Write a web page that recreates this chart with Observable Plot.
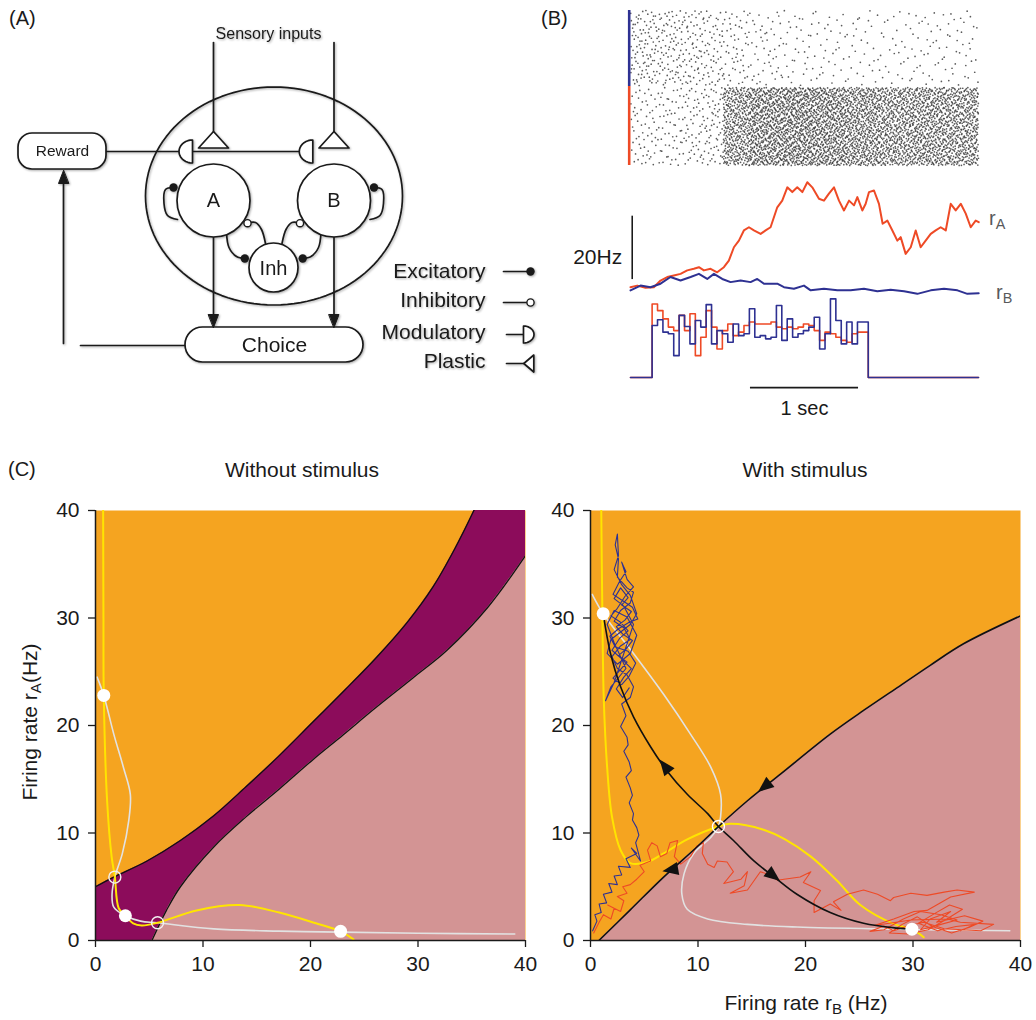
<!DOCTYPE html>
<html><head><meta charset="utf-8">
<script src="https://cdn.jsdelivr.net/npm/d3@7"></script>
<script src="https://cdn.jsdelivr.net/npm/@observablehq/plot@0.6"></script>
<style>
body{margin:0;background:#fff;}
#fig{position:relative;width:1036px;height:1020px;font-family:"Liberation Sans",Arial,Helvetica,sans-serif;color:#1a1a1a;overflow:hidden;background:#fff;}
.layer{position:absolute;}
.layer svg{display:block;overflow:visible;}
#panelA svg{filter:drop-shadow(1.5px 1.8px 1.3px rgba(0,0,0,0.33));}
.lbl{position:absolute;white-space:nowrap;line-height:1;}
.lbl sub{font-size:0.72em;vertical-align:-0.28em;line-height:0;}
</style></head><body><div id="fig"></div>
<script>
// ================= DATA =================
// ---- Panel A: network diagram (pixel layout of the schematic) ----
const diagramCircles = [
  {label: "A", x: 213, y: 200, r: 36.5},
  {label: "B", x: 333.5, y: 200, r: 36.5}
];
const inhCircle = [{label: "Inh", x: 273, y: 267, r: 24.5}];
const rewardBox = [{label: "Reward", x1: 18, x2: 106, y1: 133, y2: 169}];
const choiceBox = [{label: "Choice", x1: 185, x2: 363, y1: 327, y2: 362}];
const networkEllipse = {cx: 273.5, cy: 195.5, rx: 128.5, ry: 109};
const sensoryLabel = [{text: "Sensory inputs", x: 268, y: 33}];
const straightWires = [
  {id: "inA", pts: [[213, 42], [213, 131]]},
  {id: "inB", pts: [[333.5, 42], [333.5, 131]]},
  {id: "reward", pts: [[106, 151], [300, 151]]},
  {id: "choiceOut", pts: [[185, 345], [80, 345]]},
  {id: "feedback", pts: [[63, 343], [63, 182]]},
  {id: "AtoChoice", pts: [[213, 236], [213, 316]]},
  {id: "BtoChoice", pts: [[333.5, 236], [333.5, 316]]},
  {id: "legExc", pts: [[503, 271], [527, 271]]},
  {id: "legInh", pts: [[503, 302], [526.5, 302]]},
  {id: "legMod", pts: [[506, 334], [523, 334]]},
  {id: "legPla", pts: [[506, 363], [523.3, 363]]}
];
const curvedWires = [
  {id: "loopA", pts: [[177, 219], [167, 215], [163.5, 203], [165, 189], [173, 187]]},
  {id: "loopB", pts: [[369.5, 219], [379.5, 215], [383, 203], [381.5, 189], [373.5, 187]]},
  {id: "AtoInh", pts: [[226, 232], [228.5, 247], [236, 256], [244.3, 258]]},
  {id: "InhToA", pts: [[265, 243], [261, 229], [255, 222], [247, 222.7]]},
  {id: "BtoInh", pts: [[320.5, 232], [318, 247], [310.5, 256], [302.2, 258]]},
  {id: "InhToB", pts: [[281.5, 243], [285.5, 229], [291.5, 222], [299.5, 222.7]]}
];
// synapse glyphs: tip/anchor point, direction from tip toward base, length h, half-width w
const arrowHeads = [
  {x: 213, y: 327, dir: [0, -1], h: 13, w: 5},
  {x: 333.5, y: 327, dir: [0, -1], h: 13, w: 5},
  {x: 63, y: 170, dir: [0, 1], h: 13, w: 5}
];
const plasticSynapses = [
  {x: 213, y: 131, dir: [0, 1], h: 16.5, w: 15},
  {x: 333.5, y: 131, dir: [0, 1], h: 16.5, w: 15},
  {x: 523.3, y: 363, dir: [1, 0], h: 10, w: 8.5}
];
const modulatorySynapses = [
  {x: 192, y: 151, dir: [-1, 0], h: 13.5, w: 11.5},
  {x: 312.3, y: 151, dir: [-1, 0], h: 13.5, w: 11.5},
  {x: 523, y: 334, dir: [1, 0], h: 10.5, w: 8.5}
];
const excitatoryDots = [[173, 187], [373.5, 187], [244.3, 258], [302.2, 258], [530, 271]];
const inhibitoryDots = [[247, 222.7], [299.5, 222.7], [530, 302]];
const legendLabels = [
  {text: "Excitatory", y: 271}, {text: "Inhibitory", y: 300},
  {text: "Modulatory", y: 331.5}, {text: "Plastic", y: 361}
];

// ---- Panel B ----
const T_END = 3.22;                       // seconds shown
const rasterBinEdges = [0, 0.25, 0.5, 0.7, 0.86, 1.1, 1.4, 1.7, 2.0, 2.3, 2.6, 2.9, 3.22];
const rasterRateB = [5.2, 4.8, 4.4, 3.8, 3.0, 2.1, 1.6, 1.4, 1.3, 1.3, 1.5, 1.5];   // Hz per neuron (pop. B, top)
const rasterRateA = [2.9, 3.1, 3.5, 4.4, 21, 25, 26, 25, 23, 21, 22, 21];           // Hz per neuron (pop. A, bottom)
const rasterRowsA = [0, 78];
const rasterRowsB = [80, 155];
const rA_time = [0,.062,.139,.216,.278,.340,.401,.463,.525,.586,.633,.679,.741,.802,.864,.910,.957,1.003,1.049,1.096,1.142,1.204,1.250,1.296,1.358,1.404,1.451,1.497,1.543,1.590,1.636,1.682,1.744,1.790,1.836,1.883,1.929,1.975,2.022,2.068,2.099,2.145,2.176,2.207,2.253,2.299,2.333,2.377,2.423,2.469,2.500,2.546,2.593,2.639,2.685,2.731,2.778,2.824,2.870,2.917,2.963,3.009,3.056,3.102,3.148,3.194,3.222];
const rA_rate = [4.2,4.7,4.0,4.2,6.3,7.4,7.9,8.4,9.5,10.0,10.5,9.5,10.0,8.9,10.5,12.6,16.8,18.9,22.1,23.1,22.1,21.0,22.1,23.1,29.4,31.5,35.7,34.2,35.7,34.2,37.3,35.7,32.1,31.5,33.7,35.7,31.5,28.4,31.5,30.0,32.6,28.4,30.5,34.2,34.7,30.5,24.2,25.2,22.1,18.9,20.0,14.7,16.8,22.1,16.8,18.9,21.0,22.1,23.1,22.1,30.5,28.4,30.5,27.4,23.1,25.2,24.7];
const rB_time = [0,.093,.185,.278,.370,.463,.556,.633,.710,.772,.849,.926,1.019,1.111,1.173,1.235,1.358,1.420,1.512,1.605,1.667,1.790,1.914,2.037,2.160,2.284,2.407,2.531,2.654,2.778,2.901,3.025,3.117,3.222];
const rB_rate = [3.2,4.7,4.2,5.3,7.4,6.3,7.4,8.4,6.8,8.4,6.8,5.8,6.3,5.8,6.8,5.3,5.3,4.2,3.7,4.7,3.2,3.7,3.2,3.2,3.7,2.9,3.4,2.9,2.1,3.2,3.7,3.2,2.1,2.3];
const stimOnset = 0.2, stimBin = 0.05;
const stimA = [23.2,21.1,18.5,15.9,14.8,19.6,14.8,20.1,6.9,12.7,21.1,15.9,9.0,14.8,16.9,13.2,14.3,16.4,17.5,16.9,16.9,16.9,17.5,15.9,15.4,15.9,15.4,15.9,16.9,16.4,14.8,11.7,14.3,13.8,12.7,11.7,11.1,13.8,14.3,14.3];
const stimB = [16.4,18.2,14.3,13.8,6.9,19.6,16.1,10.6,18.0,15.9,23.0,10.6,14.8,13.8,11.1,16.9,13.2,13.8,21.7,12.7,13.2,12.2,12.7,22.7,11.7,18.5,12.7,13.8,14.8,15.9,19.0,9.0,13.8,24.8,18.0,10.6,17.5,10.6,17.5,17.5];
const rateScaleBar = {t: 0.016, from: 6.6, to: 26.6, label: "20Hz"};
const timeScaleBar = {from: 1.11, to: 2.11, label: "1 sec"};

// ---- Panel C (left: without stimulus) ----
const upperBoundaryLeft = [[0,5.0],[1.7,5.9],[4.8,7.4],[7.9,9.3],[11,11.6],[14,14.3],[17.1,17.2],[20.2,20.3],[23.2,23.3],[26.2,26.4],[29,29.6],[31.4,32.9],[33.4,36.4],[35.2,40],[36.8,43.5]];
const lowerBoundaryLeft = [[5.25,0],[6.6,2.8],[7.9,5.0],[11,8.7],[14,11.5],[17.1,14.1],[20.2,16.8],[23,19.1],[26,21.6],[29.5,24.4],[32.7,27.0],[36.5,31.0],[40,35.8]];
const grayNullLeft = [[0.15,24.5],[0.77,22.8],[1.7,19.2],[2.6,16.1],[3.24,13.6],[3.1,11.2],[2.5,8.1],[1.8,5.9],[1.54,4.3],[1.7,3.1],[2.78,2.3],[4.2,1.8],[5.77,1.65],[11,1.08],[17.1,0.87],[22.8,0.78],[30,0.68],[39,0.6]];
const yellowNullLeft = [[0.71,40],[0.74,30],[0.77,22.8],[1.08,13],[1.5,7.8],[1.8,5.9],[2.16,3.0],[2.78,2.3],[3.5,1.6],[4.3,1.4],[5.77,1.65],[9.4,2.8],[13.4,3.3],[17.1,2.6],[20.5,1.6],[22.8,0.85],[24,0.1]];
const stableLeft = [[0.77,22.8],[2.78,2.3],[22.8,0.85]];
const unstableLeft = [[1.8,5.9],[5.77,1.65]];

// ---- Panel C (right: with stimulus) ----
const stableManifold = [[0.78,0],[3.7,2.85],[6.8,5.9],[9.9,8.7],[11.9,10.6],[14.6,13],[17.7,15.5],[22.3,19.2],[25.4,21.4],[28.5,23.5],[31.6,25.6],[34.7,27.6],[40,30.2]];
const unstableManifold = [[1.18,30.4],[1.86,26.7],[2.8,23.6],[4.0,20.8],[5.6,18.0],[7.1,15.8],[9.0,13.6],[10.9,11.8],[11.9,10.6],[13.3,9.3],[15.2,7.4],[17.1,5.9],[19.2,4.3],[22.3,2.6],[25.4,1.6],[28.5,1.15],[29.9,1.05]];
const grayNullRight = [[0.16,32.2],[1.18,30.4],[4.0,26.7],[6.8,22.9],[9.3,19.2],[11.2,16.1],[12.1,13.6],[12.1,11.5],[11.9,10.6],[11.2,9.6],[9.6,8.1],[8.7,6.2],[8.5,4.3],[9.0,2.9],[10.9,2.0],[14.6,1.5],[19.2,1.25],[28.2,1.05],[39,0.9]];
const yellowNullRight = [[1.0,40],[1.09,31.6],[1.24,22.3],[1.55,16.1],[2.0,11.5],[2.8,8.4],[3.7,7.2],[5.3,7.3],[6.8,8.1],[9.0,9.4],[11.9,10.6],[13.0,10.85],[16.1,10.3],[18.1,9.4],[20.5,7.8],[22.9,5.6],[25.1,3.3],[28.2,1.55],[29.9,1.05],[31.0,0.3]];
const stableRight = [[1.18,30.4],[29.9,1.05]];
const unstableRight = [[11.9,10.6]];
const manifoldArrows = [
  {x: 7.0, y: 16.1, angle: -38},
  {x: 16.9, y: 6.1, angle: 128},
  {x: 16.3, y: 14.4, angle: -129},
  {x: 7.6, y: 6.6, angle: -100}
];
const trajectoryB = [[0.2,0.9],[0.6,1.8],[0.4,2.4],[1.0,2.6],[0.8,3.4],[1.5,3.5],[1.2,4.3],[2.0,4.5],[1.7,5.3],[2.5,5.2],[2.2,6.0],[2.9,6.1],[2.6,6.9],[3.7,6.8],[3.3,7.6],[4.3,8.1],[3.8,8.6],[4.65,7.4],[4.2,9.1],[4.5,9.8],[4.3,10.5],[3.9,11.2],[4.0,11.8],[3.6,12.8],[3.9,13.5],[3.7,14.2],[3.3,15.2],[3.8,15.8],[3.6,16.6],[3.1,17.6],[3.5,18.2],[3.4,18.9],[2.8,19.9],[3.3,20.9],[2.9,22.0],[3.7,22.6],[4.0,23.6],[3.4,24.7],[2.5,25.3],[2.0,26.4],[2.8,27.4],[3.7,28.0],[3.1,29.1],[2.2,29.7],[2.8,30.7],[3.7,31.4],[4.0,32.4],[3.4,32.8],[2.5,33.8],[2.6,35.5],[2.3,36.8],[2.5,37.8],[2.6,35.8],[2.2,34.5],[2.9,33.1],[3.7,32.1],[4.3,30.4],[3.7,29.4],[2.8,28.7],[1.9,28.0],[1.55,26.7],[2.5,25.7],[3.7,26.7],[4.3,28.4],[3.4,30.1],[2.2,30.7],[1.55,29.4],[2.2,27.7],[3.3,25.3],[1.9,23.6],[1.4,22.3],[2.2,24.0],[3.1,26.7],[4.0,29.4],[3.1,31.1],[2.2,31.8],[2.8,32.8],[3.5,31.9],[2.9,31.2],[3.8,30.6],[3.2,29.8],[2.4,29.2],[3.0,28.5],[3.9,27.9],[3.3,27.1],[2.6,26.5],[3.4,25.9],[2.7,25.1],[2.1,24.4],[2.9,23.8],[3.6,24.6],[4.2,25.8],[3.5,26.9],[2.3,27.3],[1.8,28.3],[2.6,29.0],[3.6,29.6],[4.4,29.9],[3.9,31.0],[3.0,31.6],[2.1,32.2],[2.7,33.4],[3.3,34.3],[2.9,35.2],[3.4,33.6],[4.0,32.9],[3.2,32.0],[2.5,30.9],[1.9,30.2],[2.8,29.6],[3.5,28.8],[2.7,28.1],[2.0,27.0],[2.9,26.2],[3.8,25.3],[3.1,24.5],[2.4,23.4],[3.0,22.6],[3.6,23.5]];
const trajectoryA = [[0.3,0.7],[0.8,1.7],[1.2,2.4],[1.9,2.0],[2.2,3.0],[1.6,3.3],[2.8,2.7],[3.1,3.7],[2.5,4.1],[3.4,4.4],[3.0,5.0],[3.7,5.2],[4.3,5.7],[5.0,6.4],[4.6,7.0],[5.6,7.4],[5.3,8.4],[5.7,9.1],[6.2,8.8],[6.5,7.8],[7.1,8.1],[7.4,9.1],[8.1,9.3],[7.8,7.8],[8.4,7.1],[9.3,7.8],[9.9,8.8],[10.5,9.1],[10.4,8.1],[10.9,7.1],[11.5,6.8],[11.8,7.4],[12.7,7.3],[13.3,6.4],[12.4,5.3],[14.0,5.7],[14.6,6.4],[14.3,5.1],[13.0,4.4],[14.6,4.7],[15.8,6.4],[16.7,6.1],[17.4,5.6],[18.0,5.7],[19.5,5.9],[20.5,6.4],[19.8,5.4],[21.4,4.65],[20.8,3.7],[20.8,2.6],[22.3,3.4],[23.3,2.8],[22.6,3.6],[23.9,4.3],[25.4,4.7],[26.7,4.3],[27.9,3.7],[28.2,4.0],[29.8,4.4],[31.3,4.2],[32.9,4.5],[34.1,4.7],[35.7,4.5],[33.5,4.05],[31.3,2.8],[30.1,2.7],[28.2,2.0],[26.4,1.4],[29.8,1.9],[33.2,2.0],[34.4,1.7],[37.5,1.5],[36.3,0.9],[32.9,1.1],[31.0,1.7],[29.5,1.35],[28.2,0.9],[27.3,1.35],[26.0,0.85],[27.3,1.0],[29.1,2.0],[30.7,2.7],[32.6,2.4],[34.1,1.9],[32.6,1.5],[30.7,1.0],[31.6,2.0],[33.5,2.7],[32.2,1.7],[34.8,2.3],[36.5,1.8],[35.2,1.2],[33.6,0.7],[31.8,1.3],[30.4,2.2],[29.0,1.5],[27.8,0.7],[29.6,0.6],[31.4,1.0],[33.0,1.9],[34.6,2.9],[33.4,3.3],[32.0,2.5],[30.5,1.6],[32.3,0.9],[34.0,1.3],[35.8,1.5],[34.4,0.9]];

// ================= RENDER =================
const FONT = '"Liberation Sans", Arial, Helvetica, sans-serif';
const INK = "#1a1a1a";
const ORANGE = "#F5A420", PURPLE = "#8C0C5B", PINK = "#D39494";
const YELLOW = "#FFE400", LIGHTGRAY = "#E2E2E2";
const RED = "#EE4A26", BLUE = "#2E3192";
const fig = document.getElementById("fig");

function place(node, left, top, id) {
  const d = document.createElement("div");
  d.className = "layer"; d.style.left = left + "px"; d.style.top = top + "px";
  if (id) d.id = id;
  d.appendChild(node); fig.appendChild(d); return d;
}
function label(html, x, y, {size = 21, anchor = "middle", rotate = 0, color = INK} = {}) {
  const d = document.createElement("div");
  d.className = "lbl"; d.innerHTML = html;
  d.style.left = x + "px"; d.style.top = y + "px";
  d.style.fontSize = size + "px"; d.style.color = color;
  const tx = anchor === "middle" ? "-50%" : anchor === "end" ? "-100%" : "0";
  d.style.transform = `translate(${tx},-50%)` + (rotate ? ` rotate(${rotate}deg)` : "");
  fig.appendChild(d);
}
const flat = (wires) => wires.flatMap(w => w.pts.map(([x, y]) => ({id: w.id, x, y})));
function trianglePoly(g, i, tag) {
  const [ux, uy] = g.dir, px = -uy, py = ux;
  return [[g.x, g.y],
          [g.x + ux * g.h + px * g.w, g.y + uy * g.h + py * g.w],
          [g.x + ux * g.h - px * g.w, g.y + uy * g.h - py * g.w]].map(([x, y]) => ({id: tag + i, x, y}));
}
function halfDiscPoly(g, i, tag) {
  const [ux, uy] = g.dir, px = -uy, py = ux;
  return d3.range(0, 181, 10).map(a => {
    const th = a * Math.PI / 180;
    return {id: tag + i, x: g.x + px * g.w * Math.cos(th) + ux * g.h * Math.sin(th),
                         y: g.y + py * g.w * Math.cos(th) + uy * g.h * Math.sin(th)};
  });
}
const baseStyle = {fontFamily: FONT, color: INK, background: "transparent", overflow: "visible"};

// ---------- Panel A ----------
{
  const E = networkEllipse;
  const ellipsePts = d3.range(0, 360, 3).map(a => ({x: E.cx + E.rx * Math.cos(a * Math.PI / 180), y: E.cy + E.ry * Math.sin(a * Math.PI / 180)}));
  const whiteGlyphs = [...plasticSynapses.flatMap((g, i) => trianglePoly(g, i, "p")),
                       ...modulatorySynapses.flatMap((g, i) => halfDiscPoly(g, i, "m"))];
  const blackGlyphs = arrowHeads.flatMap((g, i) => trianglePoly(g, i, "a"));
  const lw = 1.7;
  const pA = Plot.plot({
    width: 540, height: 420, margin: 0,
    x: {domain: [0, 540], range: [0, 540], axis: null},
    y: {domain: [0, 420], range: [0, 420], axis: null},
    style: baseStyle,
    marks: [
      Plot.line(ellipsePts, {x: "x", y: "y", stroke: INK, strokeWidth: lw, curve: "linear-closed"}),
      Plot.line(flat(straightWires), {x: "x", y: "y", z: "id", stroke: INK, strokeWidth: lw}),
      Plot.line(flat(curvedWires), {x: "x", y: "y", z: "id", stroke: INK, strokeWidth: lw, curve: "catmull-rom"}),
      Plot.dot(diagramCircles, {x: "x", y: "y", r: 36.5, fill: "white", stroke: INK, strokeWidth: lw}),
      Plot.dot(inhCircle, {x: "x", y: "y", r: 24.5, fill: "white", stroke: INK, strokeWidth: lw}),
      Plot.rect(rewardBox, {x1: "x1", x2: "x2", y1: "y1", y2: "y2", rx: 14, fill: "white", stroke: INK, strokeWidth: lw}),
      Plot.rect(choiceBox, {x1: "x1", x2: "x2", y1: "y1", y2: "y2", rx: 17.5, fill: "white", stroke: INK, strokeWidth: lw}),
      Plot.line(whiteGlyphs, {x: "x", y: "y", z: "id", fill: "white", stroke: INK, strokeWidth: lw, curve: "linear-closed"}),
      Plot.line(blackGlyphs, {x: "x", y: "y", z: "id", fill: INK, stroke: INK, strokeWidth: 1, curve: "linear-closed"}),
      Plot.dot(excitatoryDots, {x: d => d[0], y: d => d[1], r: 4.2, fill: INK}),
      Plot.dot(inhibitoryDots, {x: d => d[0], y: d => d[1], r: 3.6, fill: "white", stroke: INK, strokeWidth: 1.4}),
      Plot.text(diagramCircles, {x: "x", y: "y", text: "label", fontSize: 20, fill: INK}),
      Plot.text(inhCircle, {x: "x", y: d => d.y + 1, text: "label", fontSize: 20, fill: INK}),
      Plot.text(rewardBox, {x: d => (d.x1 + d.x2) / 2, y: d => (d.y1 + d.y2) / 2, text: "label", fontSize: 15.5, fill: INK}),
      Plot.text(choiceBox, {x: d => (d.x1 + d.x2) / 2, y: d => (d.y1 + d.y2) / 2, text: "label", fontSize: 21, fill: INK}),
      Plot.text(sensoryLabel, {x: "x", y: "y", text: "text", fontSize: 16, fill: INK}),
      Plot.text(legendLabels, {x: 485, y: "y", text: "text", fontSize: 21, textAnchor: "end", fill: INK})
    ]
  });
  place(pA, 0, 0, "panelA");
}

// ---------- Panel B ----------
{
  const xB = {domain: [0, T_END], range: [100, 448], axis: null};
  // raster: dots laid out evenly (Halton sequence) at the density read for each time bin
  const halton = (i, b) => { let f = 1, r = 0; while (i > 0) { f /= b; r += f * (i % b); i = Math.floor(i / b); } return r; };
  const spikes = [];
  [[rasterRateA, rasterRowsA, 0], [rasterRateB, rasterRowsB, 1]].forEach(([rates, [r0, r1], p]) => {
    rates.forEach((rate, k) => {
      const t0 = rasterBinEdges[k], dt = rasterBinEdges[k + 1] - t0;
      const n = Math.round(rate * dt * (r1 - r0));
      const seed = 1 + k * 4099 + p * 65537;
      for (let j = 0; j < n; j++) spikes.push({t: t0 + halton(seed + j, 2) * dt, n: r0 + halton(seed + j, 3) * (r1 - r0)});
    });
  });
  const raster = Plot.plot({
    width: 506, height: 180, margin: 0,
    x: xB, y: {domain: [0, 155], range: [165, 10], axis: null},
    style: baseStyle,
    marks: [
      Plot.dot(spikes, {x: "t", y: "n", r: 0.85, fill: "#333", fillOpacity: 0.8}),
      Plot.ruleX([-0.012], {y1: rasterRowsB[0] - 1, y2: rasterRowsB[1], stroke: BLUE, strokeWidth: 2.6}),
      Plot.ruleX([-0.012], {y1: rasterRowsA[0], y2: rasterRowsB[0] - 1, stroke: RED, strokeWidth: 2.6})
    ]
  });
  place(raster, 530, 0);

  const rA = rA_time.map((t, i) => ({t, r: rA_rate[i]}));
  const rB = rB_time.map((t, i) => ({t, r: rB_rate[i]}));
  const traces = Plot.plot({
    width: 506, height: 250, margin: 0,
    x: xB, y: {domain: [0, 40], range: [130, 3.2], axis: null},
    style: baseStyle,
    marks: [
      Plot.line(rA, {x: "t", y: "r", stroke: RED, strokeWidth: 2}),
      Plot.line(rB, {x: "t", y: "r", stroke: BLUE, strokeWidth: 2}),
      Plot.ruleX([rateScaleBar.t], {y1: rateScaleBar.from, y2: rateScaleBar.to, stroke: INK, strokeWidth: 1.6}),
      Plot.text([rateScaleBar.label], {x: -0.077, y: 13.7, text: d => d, textAnchor: "end", fontSize: 21, fill: INK})
    ]
  });
  place(traces, 530, 170);

  const stepSeries = (vals) => [{t: 0, v: 0}, ...vals.map((v, i) => ({t: stimOnset + i * stimBin, v})),
                                {t: stimOnset + vals.length * stimBin, v: 0}, {t: T_END, v: 0}];
  const stim = Plot.plot({
    width: 506, height: 140, margin: 0,
    x: xB, y: {domain: [0, 30], range: [97, 1.9], axis: null},
    style: baseStyle,
    marks: [
      Plot.line(stepSeries(stimA), {x: "t", y: "v", curve: "step-after", stroke: RED, strokeWidth: 1.6}),
      Plot.line(stepSeries(stimB), {x: "t", y: "v", curve: "step-after", stroke: BLUE, strokeWidth: 1.6}),
      Plot.ruleY([-3.2], {x1: timeScaleBar.from, x2: timeScaleBar.to, stroke: INK, strokeWidth: 1.6}),
      Plot.text([timeScaleBar.label], {x: (timeScaleBar.from + timeScaleBar.to) / 2, y: -9.8, text: d => d, fontSize: 20, fill: INK})
    ]
  });
  place(stim, 530, 280);
}

// ---------- Panel C ----------
const P = d => d[0], Q = d => d[1];
function phasePlot(marginLeft, marginRight, marks) {
  return Plot.plot({
    width: marginLeft + 430 + marginRight, height: 490,
    marginLeft, marginRight, marginTop: 20, marginBottom: 40,
    x: {domain: [0, 40], axis: null}, y: {domain: [0, 40], axis: null},
    style: {...baseStyle, fontSize: "21px"},
    marks: [
      ...marks,
      Plot.axisX({ticks: [0, 10, 20, 30, 40], tickSize: 7, tickPadding: 9, label: null, stroke: INK, strokeWidth: 1.3}),
      Plot.axisY({ticks: [0, 10, 20, 30, 40], tickSize: 7, tickPadding: 9, label: null, stroke: INK, strokeWidth: 1.3}),
      Plot.ruleX([0], {stroke: INK, strokeWidth: 1.5}),
      Plot.ruleY([0], {stroke: INK, strokeWidth: 1.5})
    ]
  });
}
const arrowSymbol = {draw(ctx, size) {
  const s = Math.sqrt(size / Math.PI) / 7;
  ctx.moveTo(0, -10 * s); ctx.lineTo(6.5 * s, 6 * s); ctx.lineTo(-6.5 * s, 6 * s); ctx.closePath();
}};
{
  const left = phasePlot(95, 13, [
    Plot.frame({fill: ORANGE, stroke: "none"}),
    Plot.areaY([...upperBoundaryLeft, [40, 43.5]], {x: P, y: Q, fill: PURPLE, curve: "catmull-rom", clip: true}),
    Plot.areaY(lowerBoundaryLeft, {x: P, y: Q, fill: PINK, curve: "catmull-rom", clip: true}),
    Plot.line(upperBoundaryLeft, {x: P, y: Q, stroke: "#111", strokeWidth: 1.3, curve: "catmull-rom", clip: true}),
    Plot.line(lowerBoundaryLeft, {x: P, y: Q, stroke: "#111", strokeWidth: 1.3, curve: "catmull-rom", clip: true}),
    Plot.line(grayNullLeft, {x: P, y: Q, stroke: LIGHTGRAY, strokeWidth: 1.6, curve: "catmull-rom"}),
    Plot.line(yellowNullLeft, {x: P, y: Q, stroke: YELLOW, strokeWidth: 2, curve: "catmull-rom", clip: true}),
    Plot.dot(stableLeft, {x: P, y: Q, r: 6.5, fill: "white"}),
    Plot.dot(unstableLeft, {x: P, y: Q, r: 6, fill: "none", stroke: "#f2f2f2", strokeWidth: 1.4})
  ]);
  place(left, 0, 490);

  const right = phasePlot(90, 16, [
    Plot.frame({fill: ORANGE, stroke: "none"}),
    Plot.areaY(stableManifold, {x: P, y: Q, fill: PINK, curve: "catmull-rom", clip: true}),
    Plot.line(grayNullRight, {x: P, y: Q, stroke: LIGHTGRAY, strokeWidth: 1.6, curve: "catmull-rom"}),
    Plot.line(yellowNullRight, {x: P, y: Q, stroke: YELLOW, strokeWidth: 2, curve: "catmull-rom", clip: true}),
    Plot.line(trajectoryA, {x: P, y: Q, stroke: RED, strokeWidth: 1.1}),
    Plot.line(trajectoryB, {x: P, y: Q, stroke: BLUE, strokeWidth: 1.1}),
    Plot.line(stableManifold, {x: P, y: Q, stroke: "#111", strokeWidth: 1.6, curve: "catmull-rom", clip: true}),
    Plot.line(unstableManifold, {x: P, y: Q, stroke: "#111", strokeWidth: 1.6, curve: "catmull-rom"}),
    Plot.dot(manifoldArrows, {x: "x", y: "y", rotate: "angle", symbol: arrowSymbol, r: 7, fill: "#111", stroke: "none"}),
    Plot.dot(stableRight, {x: P, y: Q, r: 6.5, fill: "white"}),
    Plot.dot(unstableRight, {x: P, y: Q, r: 6, fill: "none", stroke: "white", strokeWidth: 1.4})
  ]);
  place(right, 500, 490);
}

// ---------- Text labels ----------
label("(A)", 9, 18, {size: 20, anchor: "start"});
label("(B)", 541, 18, {size: 20, anchor: "start"});
label("(C)", 8, 469, {size: 20, anchor: "start"});
label("Without stimulus", 302, 469, {size: 21});
label("With stimulus", 805, 469, {size: 21});
label("Firing rate r<sub>A</sub>(Hz)", 29, 722, {size: 21, rotate: -90});
label("Firing rate r<sub>B</sub> (Hz)", 806, 1002, {size: 21});
label("r<sub>A</sub>", 989, 218, {size: 20, anchor: "start", color: "#58595b"});
label("r<sub>B</sub>", 996, 292, {size: 20, anchor: "start", color: "#58595b"});
</script></body></html>
